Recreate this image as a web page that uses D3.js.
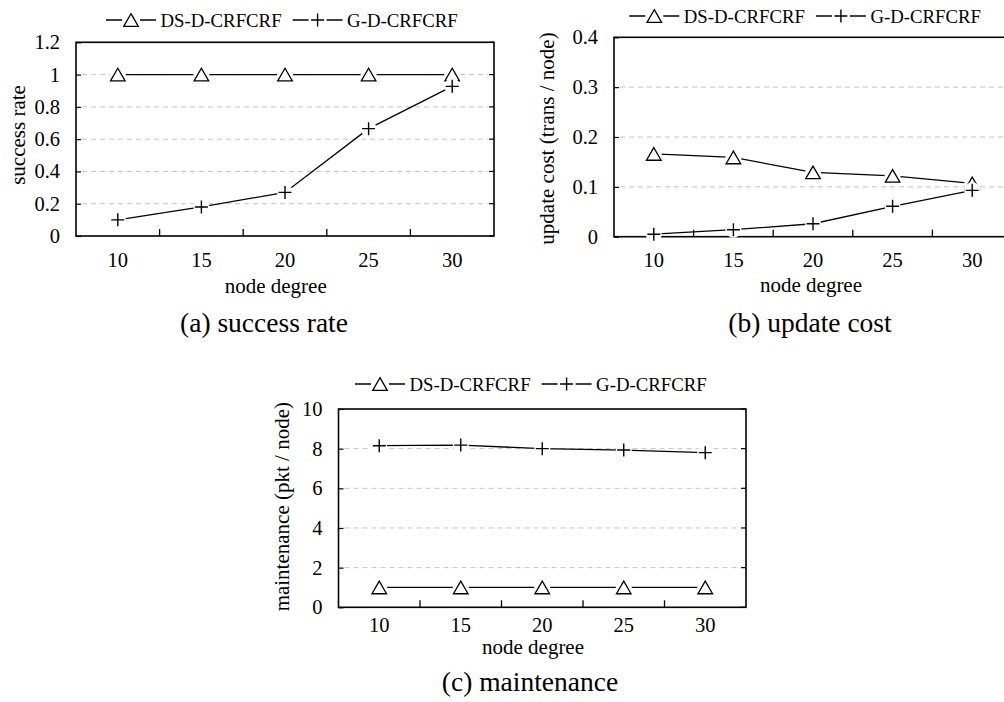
<!DOCTYPE html>
<html>
<head>
<meta charset="utf-8">
<script src="https://cdn.jsdelivr.net/npm/d3@7"></script>
<style>
  html, body { margin: 0; padding: 0; background: #fff; }
  svg { display: block; font-family: "Liberation Serif", "Times New Roman", serif; }
</style>
</head>
<body>
<svg id="chart"></svg>
<script>
// ---- data ----
const degrees = [10, 15, 20, 25, 30];
const seriesNames = ['DS-D-CRFCRF', 'G-D-CRFCRF'];

const successDS = [1, 1, 1, 1, 1];
const successG = [0.10, 0.18, 0.27, 0.665, 0.927];
const successTicks = [0, 0.2, 0.4, 0.6, 0.8, 1, 1.2];

const updateDS = [0.166, 0.159, 0.129, 0.122, 0.107];
const updateG = [0.005, 0.014, 0.026, 0.061, 0.093];
const updateTicks = [0, 0.1, 0.2, 0.3, 0.4];

const maintDS = [1, 1, 1, 1, 1];
const maintG = [8.15, 8.18, 8.0, 7.93, 7.8];
const maintTicks = [0, 2, 4, 6, 8, 10];

const W = 1004, H = 702;

// layout of the three sub-figures
const panels = [
  {
    ds: successDS, g: successG, ticks: successTicks,
    yTitle: 'success rate', caption: '(a) success rate',
    box: { left: 76, right: 494, top: 42.3, bottom: 236 },
    xTickY: 30.7, xTitle: [275.7, 293], yTitleAt: [25, 135],
    legendAt: [106, 27], captionAt: [264, 332]
  },
  {
    ds: updateDS, g: updateG, ticks: updateTicks,
    yTitle: 'update cost (trans / node)', caption: '(b) update cost',
    box: { left: 614, right: 1012, top: 37.3, bottom: 236.7 },
    xTickY: 30.5, xTitle: [811, 292], yTitleAt: [554, 138.5],
    legendAt: [629.3, 23], captionAt: [810, 332]
  },
  {
    ds: maintDS, g: maintG, ticks: maintTicks,
    yTitle: 'maintenance (pkt / node)', caption: '(c) maintenance',
    box: { left: 338.5, right: 746, top: 409, bottom: 607.3 },
    xTickY: 24.5, xTitle: [533, 654], yTitleAt: [289, 506.7],
    legendAt: [355, 391], captionAt: [530, 691]
  }
];

const svg = d3.select('#chart')
  .attr('width', W)
  .attr('height', H)
  .attr('viewBox', `0 0 ${W} ${H}`);

svg.append('rect').attr('width', W).attr('height', H).attr('fill', '#fff');

// white gap left around each point (gnuplot-like pointinterval)
const HALO = 8;
const triPath = 'M0,-6.3L7.3,6.3L-7.3,6.3Z';
const plusPath = 'M-6.5,0H6.5M0,-6.5V6.5';

function drawMarker(sel, kind) {
  if (kind === 0) {
    sel.append('path').attr('d', triPath)
      .attr('fill', '#fff').attr('stroke', '#000').attr('stroke-width', 1.3);
  } else {
    sel.append('path').attr('d', plusPath)
      .attr('fill', 'none').attr('stroke', '#000').attr('stroke-width', 1.4);
  }
}

panels.forEach(p => {
  const b = p.box;
  const g = svg.append('g');

  const x = d3.scaleBand()
    .domain(degrees)
    .range([b.left, b.right])
    .padding(0);
  const cx = d => x(d) + x.bandwidth() / 2;

  const y = d3.scaleLinear()
    .domain([0, d3.max(p.ticks)])
    .range([b.bottom, b.top]);

  // Dashed grid lines
  g.selectAll('.grid')
    .data(p.ticks.filter(t => t > 0 && t < d3.max(p.ticks)))
    .join('line')
    .attr('x1', b.left + 6)
    .attr('x2', b.right - 6)
    .attr('y1', d => y(d))
    .attr('y2', d => y(d))
    .attr('stroke', '#c4c4c4')
    .attr('stroke-width', 1)
    .attr('stroke-dasharray', '5,4');

  // Y axis: inward ticks + labels
  const yAxis = g.append('g')
    .attr('transform', `translate(${b.left},0)`)
    .call(d3.axisLeft(y).tickValues(p.ticks).tickSize(-5).tickPadding(16).tickFormat(d3.format('')));
  yAxis.select('.domain').remove();
  yAxis.selectAll('line').attr('stroke', '#000').attr('stroke-width', 1.2);
  yAxis.selectAll('text')
    .attr('font-family', '"Liberation Serif", "Times New Roman", serif')
    .attr('font-size', 20.5)
    .attr('fill', '#000');
  yAxis.attr('font-size', null).attr('font-family', null);

  // mirrored ticks on the right border
  g.selectAll('.rtick')
    .data(p.ticks)
    .join('line')
    .attr('x1', b.right - 5)
    .attr('x2', b.right)
    .attr('y1', d => y(d))
    .attr('y2', d => y(d))
    .attr('stroke', '#000')
    .attr('stroke-width', 1.2);

  // X axis: labels at category centres, ticks between categories
  const xAxis = g.append('g')
    .attr('transform', `translate(0,${b.bottom})`)
    .call(d3.axisBottom(x).tickSize(0));
  xAxis.select('.domain').remove();
  xAxis.attr('font-size', null).attr('font-family', null);
  xAxis.selectAll('text')
    .attr('y', p.xTickY)
    .attr('dy', 0)
    .attr('font-family', '"Liberation Serif", "Times New Roman", serif')
    .attr('font-size', 20.5)
    .attr('fill', '#000');

  g.selectAll('.xtick')
    .data(degrees.slice(1))
    .join('line')
    .attr('x1', d => x(d))
    .attr('x2', d => x(d))
    .attr('y1', b.bottom)
    .attr('y2', b.bottom - 7)
    .attr('stroke', '#000')
    .attr('stroke-width', 1.3);

  // Frame
  g.append('rect')
    .attr('x', b.left)
    .attr('y', b.top)
    .attr('width', b.right - b.left)
    .attr('height', b.bottom - b.top)
    .attr('fill', 'none')
    .attr('stroke', '#000')
    .attr('stroke-width', 1.6);

  // Series: line, white halos, markers
  [p.ds, p.g].forEach((vals, si) => {
    const pts = degrees.map((d, i) => ({ d, v: vals[i] }));
    g.append('path')
      .datum(pts)
      .attr('fill', 'none')
      .attr('stroke', '#000')
      .attr('stroke-width', 1.3)
      .attr('d', d3.line().x(q => cx(q.d)).y(q => y(q.v)));

    g.selectAll(`.halo${si}`)
      .data(pts)
      .join('circle')
      .attr('class', `halo${si}`)
      .attr('cx', q => cx(q.d))
      .attr('cy', q => y(q.v))
      .attr('r', HALO)
      .attr('fill', '#fff');

    g.selectAll(`.mk${si}`)
      .data(pts)
      .join('g')
      .attr('class', `mk${si}`)
      .attr('transform', q => `translate(${cx(q.d)},${y(q.v)})`)
      .each(function () { drawMarker(d3.select(this), si); });
  });

  // Axis titles
  g.append('text')
    .attr('x', p.xTitle[0])
    .attr('y', p.xTitle[1])
    .attr('text-anchor', 'middle')
    .attr('font-size', 21)
    .text('node degree');

  g.append('text')
    .attr('transform', `translate(${p.yTitleAt[0]},${p.yTitleAt[1]}) rotate(-90)`)
    .attr('text-anchor', 'middle')
    .attr('font-size', 21)
    .text(p.yTitle);

  // Legend
  const lg = g.append('g');
  let lx = p.legendAt[0];
  const ly = p.legendAt[1];
  seriesNames.forEach((name, si) => {
    lg.append('line')
      .attr('x1', lx).attr('x2', lx + 50)
      .attr('y1', ly - 7).attr('y2', ly - 7)
      .attr('stroke', '#000').attr('stroke-width', 1.3);
    const m = lg.append('g').attr('transform', `translate(${lx + 25},${ly - 7})`);
    m.append('rect').attr('x', -9).attr('y', -8).attr('width', 18).attr('height', 16).attr('fill', '#fff');
    drawMarker(m, si);
    const t = lg.append('text')
      .attr('x', lx + 54.5)
      .attr('y', ly)
      .attr('font-size', 18.8)
      .text(name);
    lx = lx + 54.5 + t.node().getComputedTextLength() + 11;
  });

  // Caption
  g.append('text')
    .attr('x', p.captionAt[0])
    .attr('y', p.captionAt[1])
    .attr('text-anchor', 'middle')
    .attr('font-size', 27.5)
    .text(p.caption);
});
</script>
</body>
</html>
